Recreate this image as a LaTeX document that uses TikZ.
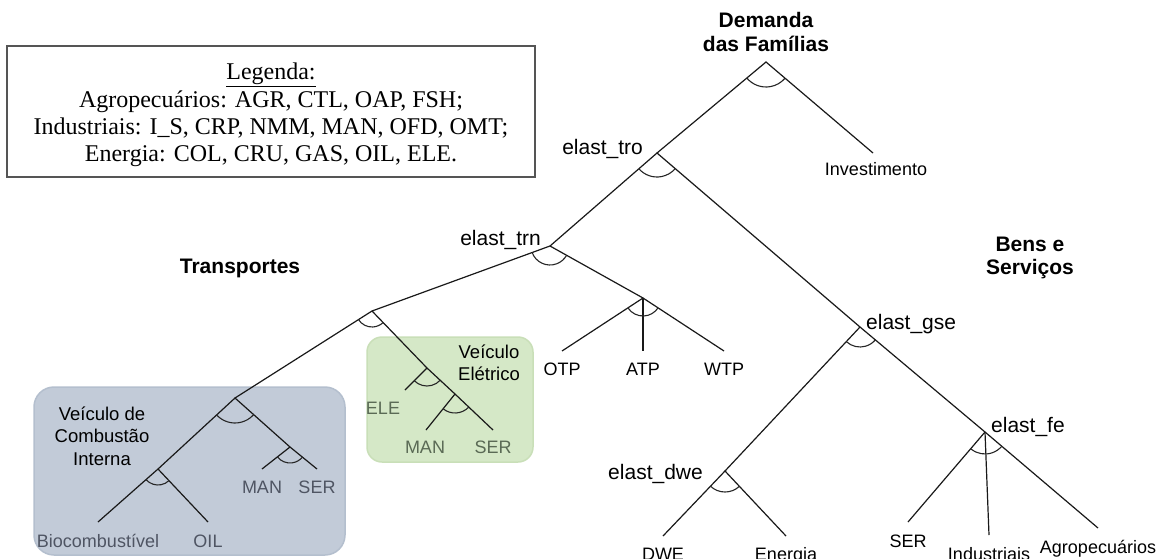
\documentclass[tikz,border=0pt]{standalone}
\usepackage{fontspec}
\setmainfont{Liberation Serif}
\newfontfamily\arial{Liberation Sans}
\usetikzlibrary{calc}
\definecolor{bluebox}{HTML}{C2CBD8}
\definecolor{blueedge}{HTML}{B4BFCE}
\definecolor{greenbox}{HTML}{D5E8C7}
\definecolor{greenedge}{HTML}{C9DFB8}
\definecolor{bluetxt}{HTML}{4F5563}
\definecolor{greentxt}{HTML}{5A6A55}
\definecolor{legedge}{HTML}{555555}
\newcommand\elarc[4]{\draw[arcline] let \p1=($(#2)-(#1)$), \p2=($(#3)-(#1)$), \n1={atan2(\y1,\x1)}, \n2={atan2(\y2,\x2)} in ($(#1)+(\n1:#4)$) arc[start angle=\n1, end angle=\n2, radius=#4];}
\begin{document}
\begin{tikzpicture}[x=1pt,y=-1pt,
  tree/.style={line width=1.2pt, draw=black!90},
  arcline/.style={line width=1.1pt, draw=black!85},
  leaf/.style={font=\arial\fontsize{18}{21}\selectfont, inner sep=0pt, anchor=base},
  elab/.style={font=\arial\fontsize{21}{25}\selectfont, inner sep=0pt},
  boldlab/.style={font=\arial\bfseries\fontsize{21}{23.5}\selectfont, align=center, inner sep=0pt},
  boxlab/.style={font=\arial\fontsize{18.5}{22.5}\selectfont, align=center, inner sep=0pt}]
\useasboundingbox[fill=white] (0,0) rectangle (1162,558);

% legend
\node[draw=legedge, line width=1.2pt, minimum width=528pt, minimum height=131pt, inner sep=0pt] (legbox) at (271,111.5) {};
\node[font=\fontsize{24}{27.3}\selectfont, align=center, inner sep=0pt] (legtext) at (271,115)
  {\underline{Legenda:}\\Agropecuários: AGR, CTL, OAP, FSH;\\Industriais: I\_S, CRP, NMM, MAN, OFD, OMT;\\Energia: COL, CRU, GAS, OIL, ELE.};

% shaded boxes
\node[draw=blueedge, fill=bluebox, line width=1.5pt, rounded corners=20pt, minimum width=311pt, minimum height=168pt, inner sep=0pt] (cibox) at (189.5,471) {};
\node[draw=greenedge, fill=greenbox, line width=1.5pt, rounded corners=15pt, minimum width=166pt, minimum height=125pt, inner sep=0pt] (evbox) at (450,399.5) {};

% branch points and ends
\coordinate (A) at (766,62);
\coordinate (T) at (657,153);
\coordinate (Inv) at (873,153);
\coordinate (N) at (550,246);
\coordinate (GSE) at (860,327);
\coordinate (L) at (372,311);
\coordinate (R) at (643,298);
\coordinate (OTPe) at (562,351);
\coordinate (ATPe) at (643,351);
\coordinate (WTPe) at (724,351);
\coordinate (B1) at (235,398);
\coordinate (G1) at (427,368);
\coordinate (G2) at (455,394);
\coordinate (Ge) at (493,430);
\coordinate (ELEe) at (405,390);
\coordinate (MANg) at (426,430);
\coordinate (BL) at (158,469);
\coordinate (BR) at (290,447);
\coordinate (Bioe) at (98,522);
\coordinate (OILe) at (208,522);
\coordinate (MANb) at (262,469);
\coordinate (SERb) at (317,469);
\coordinate (FE) at (985,432);
\coordinate (DWEp) at (725,471);
\coordinate (DWEe) at (663,536);
\coordinate (ENe) at (786,536);
\coordinate (SERe) at (908,522);
\coordinate (INDe) at (989,535);
\coordinate (AGRe) at (1098,528);

% tree lines
\draw[tree] (T) -- (A) -- (Inv);
\draw[tree] (N) -- (T) -- (GSE) -- (FE) -- (AGRe);
\draw[tree] (L) -- (N) -- (R);
\draw[tree] (OTPe) -- (R) -- (WTPe);
\draw[tree] (R) -- (ATPe);
\draw[tree] (B1) -- (L) -- (G1) -- (G2) -- (Ge);
\draw[tree] (G1) -- (ELEe);
\draw[tree] (G2) -- (MANg);
\draw[tree] (Bioe) -- (BL) -- (B1) -- (BR) -- (SERb);
\draw[tree] (BL) -- (OILe);
\draw[tree] (BR) -- (MANb);
\draw[tree] (GSE) -- (DWEp);
\draw[tree] (DWEe) -- (DWEp) -- (ENe);
\draw[tree] (SERe) -- (FE);
\draw[tree] (FE) -- (INDe);

% elasticity arcs
\elarc{A}{T}{Inv}{25pt}
\elarc{T}{N}{GSE}{24pt}
\elarc{N}{L}{R}{19pt}
\elarc{L}{B1}{G1}{16pt}
\elarc{R}{OTPe}{WTPe}{18pt}
\elarc{GSE}{DWEp}{FE}{20pt}
\elarc{DWEp}{DWEe}{ENe}{21pt}
\elarc{FE}{SERe}{AGRe}{22pt}
\elarc{B1}{BL}{BR}{25pt}
\elarc{BL}{Bioe}{OILe}{16pt}
\elarc{BR}{MANb}{SERb}{16pt}
\elarc{G1}{ELEe}{G2}{18pt}
\elarc{G2}{MANg}{Ge}{19pt}

% bold group labels
\node[boldlab] (dem) at (766,32) {Demanda\\das Famílias};
\node[boldlab] (transp) at (240,268) {Transportes};
\node[boldlab] (bens) at (1030,258) {Bens e\\Serviços};

% elasticity labels
\node[elab, anchor=base east] (ltro) at (643,154) {elast\_tro};
\node[elab, anchor=base east] (ltrn) at (541,245) {elast\_trn};
\node[elab, anchor=base west] (lgse) at (866,329) {elast\_gse};
\node[elab, anchor=base west] (lfe) at (991,432) {elast\_fe};
\node[elab, anchor=base east] (ldwe) at (703,479) {elast\_dwe};

% box titles
\node[boxlab] (citit) at (102,436) {Veículo de\\Combustão\\Interna};
\node[boxlab] (evtit) at (489,363) {Veículo\\Elétrico};

% leaves
\node[leaf] (inv) at (876,175) {Investimento};
\node[leaf] (otp) at (562,375) {OTP};
\node[leaf] (atp) at (643,375) {ATP};
\node[leaf] (wtp) at (724,375) {WTP};
\node[leaf, text=bluetxt] (bio) at (98,547) {Biocombustível};
\node[leaf, text=bluetxt] (oil) at (208,547) {OIL};
\node[leaf, text=bluetxt] (manb) at (262,493) {MAN};
\node[leaf, text=bluetxt] (serb) at (317,493) {SER};
\node[leaf, text=greentxt] (ele) at (383,414) {ELE};
\node[leaf, text=greentxt] (mang) at (425,453) {MAN};
\node[leaf, text=greentxt] (serg) at (493,453) {SER};
\node[leaf] (dwe) at (663,560) {DWE};
\node[leaf] (ene) at (786,560) {Energia};
\node[leaf] (ser) at (908,547) {SER};
\node[leaf] (ind) at (989,560) {Industriais};
\node[leaf] (agr) at (1098,553) {Agropecuários};
\end{tikzpicture}
\end{document}
